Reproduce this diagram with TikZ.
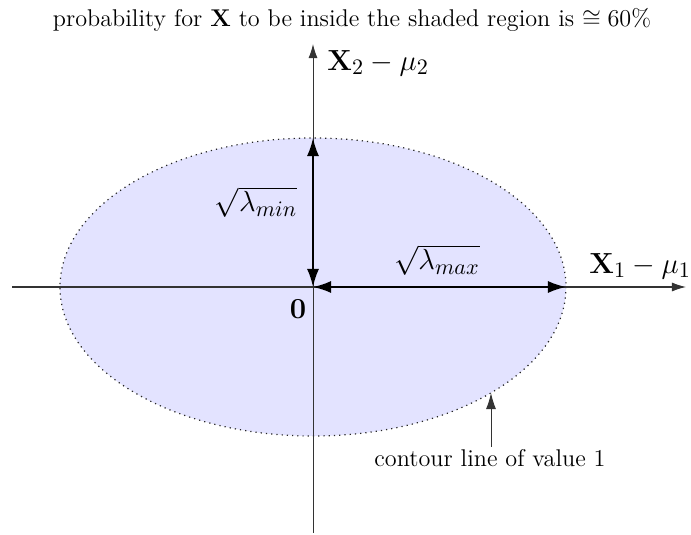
\documentclass[tikz,border=0pt]{standalone}
\usepackage{amsmath,amssymb}
\usetikzlibrary{arrows.meta}
\begin{document}
\begin{tikzpicture}[x=0.01742cm,y=-0.01742cm,
  axis/.style={draw=black!80, line width=0.5pt, -{Latex[length=7pt,width=4.5pt]}},
  semiaxis/.style={draw=black, line width=0.9pt, {Latex[length=9pt,width=6pt]}-{Latex[length=9pt,width=6pt]}},
  pointer/.style={draw=black!80, line width=0.5pt, -{Latex[length=8pt,width=5pt]}},
  biglabel/.style={font=\fontsize{15}{18}\selectfont, inner sep=1pt},
  smalllabel/.style={font=\fontsize{12}{14.5}\selectfont, inner sep=1pt}]
\useasboundingbox (0,0) rectangle (691,535);
% key points
\coordinate (O) at (313,287);
\coordinate (L) at (12,287);
\coordinate (R) at (686,287);
\coordinate (B) at (313,533);
\coordinate (T) at (313,44);
\coordinate (Etop) at (313,138);
\coordinate (Eright) at (566,287);
\coordinate (C) at (491,393);
% ellipse
\fill[blue!11] (O) ellipse [x radius=253, y radius=149];
\draw[black!85, line width=0.6pt, dotted] (O) ellipse [x radius=253, y radius=149];
% axes
\draw[axis] (L) -- (R);
\draw[axis] (B) -- (T);
% semi axes
\draw[semiaxis] (Etop) -- (O);
\draw[semiaxis] (O) -- (Eright);
% labels
\node[smalllabel] (title) at (352,20) {probability for $\mathbf{X}$ to be inside the shaded region is $\cong 60\%$};
\node[biglabel, anchor=west] (x2) at (325,63) {$\mathbf{X}_2-\mu_2$};
\node[biglabel, anchor=west] (x1) at (587,266) {$\mathbf{X}_1-\mu_1$};
\node[biglabel] (lmin) at (256,202) {$\sqrt{\lambda_{min}}$};
\node[biglabel] (lmax) at (437,260) {$\sqrt{\lambda_{max}}$};
\node[biglabel] (zero) at (298,309) {$\mathbf{0}$};
\node[smalllabel] (contour) at (490,458) {contour line of value 1};
\draw[pointer] (contour.north -| C) -- (C);
\end{tikzpicture}
\end{document}
